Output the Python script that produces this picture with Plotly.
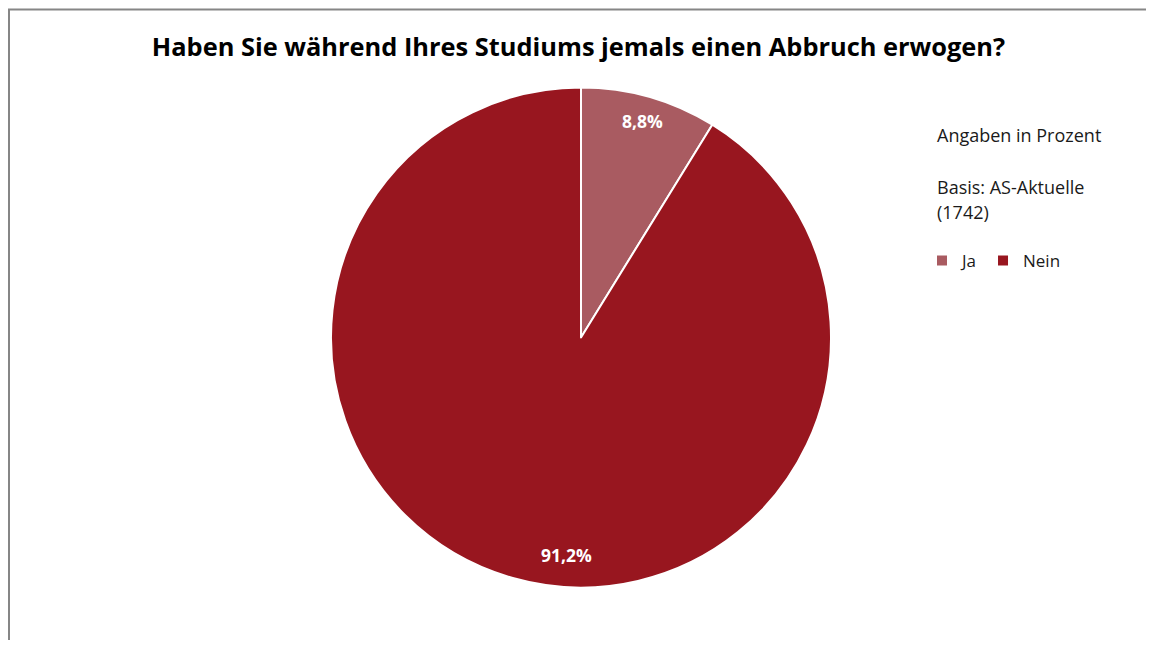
import math
import plotly.graph_objects as go

labels = ["Ja", "Nein"]
values = [8.8, 91.2]
colors = ["#A95B61", "#98161F"]
title_text = "Haben Sie während Ihres Studiums jemals einen Abbruch erwogen?"
note_lines = ["Angaben in Prozent", "Basis: AS-Aktuelle", "(1742)"]

FONT = "Open Sans"
OFF = 8  # default body margin of the html page
W, H = 1154 - 2 * OFF, 648 - 2 * OFF
# pie square in page pixels: x 331..831, y 87..588
L, T = 331 - OFF, 87 - OFF
R, B = W - (831 - OFF), H - (588 - OFF)
PW, PH = W - L - R, H - T - B


def px_x(px):
    return (px - OFF - L) / PW


def px_y(py):
    return (H - B - (py - OFF)) / PH


fig = go.Figure(go.Pie(
    labels=labels, values=values, sort=False, direction="clockwise", rotation=0,
    marker=dict(colors=colors, line=dict(color="white", width=2)),
    textinfo="none", hoverinfo="label+percent", showlegend=True,
))

# data labels placed along slice angles
label_r = [0.90, 0.87]
label_ang = []
cum = 0
tot = sum(values)
for v in values:
    label_ang.append((cum + v / 2) / tot * 360)
    cum += v
label_ang[1] = 183.7  # Excel best-fit placement near bottom
annotations = []
cx, cy, rad = 0.5, 0.5, 0.5
for v, r, a in zip(values, label_r, label_ang):
    ax = cx + rad * r * math.sin(math.radians(a))
    ay = cy + rad * r * math.cos(math.radians(a))
    annotations.append(dict(
        x=ax, y=ay, xref="paper", yref="paper", showarrow=False,
        xanchor="center", yanchor="middle",
        text=f"<b>{v:.1f}%</b>".replace(".", ","),
        font=dict(color="white", size=17.5, family=FONT),
    ))

for txt, py in zip(note_lines, [135, 187, 212]):
    annotations.append(dict(
        x=px_x(935), y=px_y(py), xref="paper", yref="paper", showarrow=False,
        xanchor="left", yanchor="middle", text=txt,
        font=dict(size=18, color="#1a1a1a", family=FONT),
    ))

shapes = [
    dict(type="line", xref="paper", yref="paper", x0=px_x(8), x1=px_x(1170),
         y0=px_y(9.5), y1=px_y(9.5), line=dict(color="#868686", width=2)),
    dict(type="line", xref="paper", yref="paper", x0=px_x(9), x1=px_x(9),
         y0=px_y(9), y1=px_y(670), line=dict(color="#868686", width=2)),
]

fig.update_layout(
    width=W, height=H,
    margin=dict(l=L, r=R, t=T, b=B, autoexpand=False),
    paper_bgcolor="white", plot_bgcolor="white",
    title=dict(text=f"<b>{title_text}</b>", x=(578.5 - OFF) / W, xref="container",
               xanchor="center", y=1 - (47 - OFF) / H, yref="container", yanchor="middle",
               font=dict(size=25.4, color="black", family=FONT)),
    legend=dict(orientation="h", x=px_x(922), y=px_y(261), xanchor="left", yanchor="middle",
                font=dict(size=17, color="#1a1a1a", family=FONT),
                itemclick=False, itemdoubleclick=False, traceorder="normal"),
    annotations=annotations, shapes=shapes,
)

fig.write_html("out.html")
